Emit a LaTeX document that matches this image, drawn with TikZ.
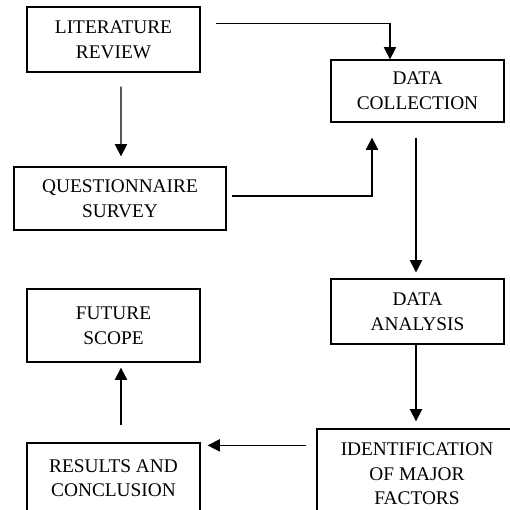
\documentclass[tikz,border=0pt]{standalone}
\usepackage{fontspec}
\setmainfont{Liberation Serif}
\usetikzlibrary{arrows.meta}

\tikzset{
    stage/.style = {draw, line width = 0.7pt, inner sep = 0pt, align = center,
        font = \fontsize{11}{14}\selectfont},
    flow/.style = {line width = 0.7pt, -{Triangle[width = 7pt, length = 7pt]}}
}

\begin{document}
\begin{tikzpicture}[x = 0.02cm, y = -0.02cm]
        \clip (0, 0) rectangle (510, 510);

        \node[stage, minimum width = 173*0.02cm, minimum height = 65*0.02cm]
            (lit) at (113.5, 39.5) {LITERATURE\\REVIEW};
        \node[stage, minimum width = 212*0.02cm, minimum height = 63*0.02cm]
            (quest) at (120, 198.5) {QUESTIONNAIRE\\SURVEY};
        \node[stage, minimum width = 173*0.02cm, minimum height = 62*0.02cm]
            (coll) at (417.5, 91) {DATA\\COLLECTION};
        \node[stage, minimum width = 173*0.02cm, minimum height = 65*0.02cm]
            (anal) at (417.5, 311.5) {DATA\\ANALYSIS};
        \node[stage, minimum width = 200*0.02cm, minimum height = 90*0.02cm]
            (ident) at (417, 474) {IDENTIFICATION\\OF MAJOR\\FACTORS};
        \node[stage, minimum width = 173*0.02cm, minimum height = 70*0.02cm]
            (res) at (113.5, 478) {RESULTS AND\\CONCLUSION};
        \node[stage, minimum width = 173*0.02cm, minimum height = 73*0.02cm]
            (fut) at (113.5, 325.5) {FUTURE\\SCOPE};

        \draw[flow, shorten <= 8pt, shorten > = 5.7pt]
            ([shift = {(7.5, 0)}]lit.south) -- ([shift = {(1, 0)}]quest.north);
        \draw[flow] ([shift = {(15, 17)}]lit.north east)
            -| ([shift = {(-27.5, 0)}]coll.north);
        \draw[flow] ([shift = {(5, -2.5)}]quest.east)
            -| ([shift = {(-45.5, 15)}]coll.south);
        \draw[flow, shorten <= 8.5pt, shorten > = 3.4pt]
            ([shift = {(-1.5, 0)}]coll.south) -- ([shift = {(-1.5, 0)}]anal.north);
        \draw[flow, shorten > = 4pt]
            ([shift = {(-1.5, 0)}]anal.south) -- ([shift = {(-1, 0)}]ident.north);
        \draw[flow] ([shift = {(-10, 17)}]ident.north west)
            -- ([shift = {(7, 3)}]res.north east);
        \draw[flow] ([shift = {(7.5, -17)}]res.north) -- ([shift = {(7.5, 5)}]fut.south);
    \end{tikzpicture}
\end{document}
